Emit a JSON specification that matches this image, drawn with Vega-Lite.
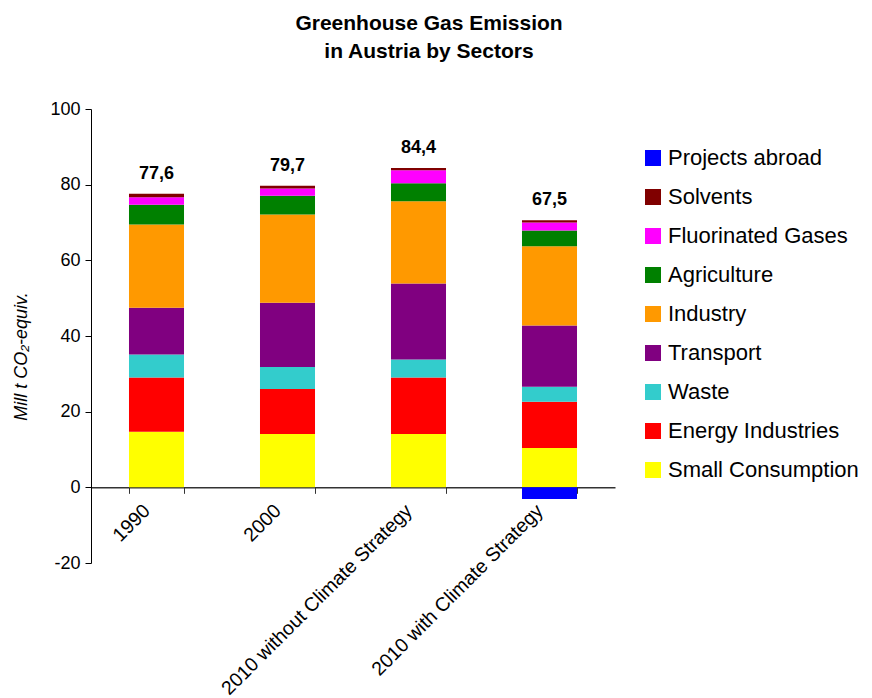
{
  "$schema": "https://vega.github.io/schema/vega-lite/v6.json",
  "autosize": {"type": "none"},
  "width": 524,
  "height": 454,
  "padding": {"left": 91, "top": 109, "right": 257, "bottom": 135},
  "background": "white",
  "title": {
    "text": ["Greenhouse Gas Emission", "in Austria by Sectors"],
    "font": "Liberation Sans",
    "fontSize": 21,
    "fontWeight": "bold",
    "color": "black",
    "anchor": "middle",
    "dx": 76,
    "lineHeight": 28,
    "offset": 38
  },
  "data": {
    "values": [
      {"category": "1990", "sector": "Small Consumption", "value": 14.7},
      {"category": "1990", "sector": "Energy Industries", "value": 14.3},
      {"category": "1990", "sector": "Waste", "value": 6.1},
      {"category": "1990", "sector": "Transport", "value": 12.4},
      {"category": "1990", "sector": "Industry", "value": 22.0},
      {"category": "1990", "sector": "Agriculture", "value": 5.2},
      {"category": "1990", "sector": "Fluorinated Gases", "value": 2.0},
      {"category": "1990", "sector": "Solvents", "value": 0.9},
      {"category": "2000", "sector": "Small Consumption", "value": 14.1},
      {"category": "2000", "sector": "Energy Industries", "value": 11.9},
      {"category": "2000", "sector": "Waste", "value": 5.8},
      {"category": "2000", "sector": "Transport", "value": 17.0},
      {"category": "2000", "sector": "Industry", "value": 23.3},
      {"category": "2000", "sector": "Agriculture", "value": 5.0},
      {"category": "2000", "sector": "Fluorinated Gases", "value": 1.9},
      {"category": "2000", "sector": "Solvents", "value": 0.7},
      {"category": "2010 without Climate Strategy", "sector": "Small Consumption", "value": 14.1},
      {"category": "2010 without Climate Strategy", "sector": "Energy Industries", "value": 14.9},
      {"category": "2010 without Climate Strategy", "sector": "Waste", "value": 4.8},
      {"category": "2010 without Climate Strategy", "sector": "Transport", "value": 20.1},
      {"category": "2010 without Climate Strategy", "sector": "Industry", "value": 21.7},
      {"category": "2010 without Climate Strategy", "sector": "Agriculture", "value": 4.8},
      {"category": "2010 without Climate Strategy", "sector": "Fluorinated Gases", "value": 3.4},
      {"category": "2010 without Climate Strategy", "sector": "Solvents", "value": 0.6},
      {"category": "2010 with Climate Strategy", "sector": "Small Consumption", "value": 10.4},
      {"category": "2010 with Climate Strategy", "sector": "Energy Industries", "value": 12.2},
      {"category": "2010 with Climate Strategy", "sector": "Waste", "value": 4.0},
      {"category": "2010 with Climate Strategy", "sector": "Transport", "value": 16.2},
      {"category": "2010 with Climate Strategy", "sector": "Industry", "value": 20.9},
      {"category": "2010 with Climate Strategy", "sector": "Agriculture", "value": 4.2},
      {"category": "2010 with Climate Strategy", "sector": "Fluorinated Gases", "value": 2.1},
      {"category": "2010 with Climate Strategy", "sector": "Solvents", "value": 0.6},
      {"category": "2010 with Climate Strategy", "sector": "Projects abroad", "value": -3.1}
    ]
  },
  "encoding": {
    "x": {
      "field": "category",
      "type": "nominal",
      "sort": ["1990", "2000", "2010 without Climate Strategy", "2010 with Climate Strategy"],
      "scale": {"paddingInner": 0.58, "paddingOuter": 0.29},
      "axis": {
        "title": null,
        "orient": "bottom",
        "offset": -75.67,
        "labelAngle": -45,
        "labelAlign": "right",
        "labelBaseline": "middle",
        "labelFont": "Liberation Sans",
        "labelFontSize": 19.5,
        "labelColor": "black",
        "labelPadding": 14,
        "labelOffset": -10,
        "labelLimit": 0,
        "labelOverlap": false,
        "tickBand": "extent",
        "tickSize": 6,
        "tickColor": "#333333",
        "domainColor": "#333333",
        "domainWidth": 1.5
      }
    }
  },
  "layer": [
    {
      "transform": [
        {"calculate": "indexof(['Small Consumption', 'Energy Industries', 'Waste', 'Transport', 'Industry', 'Agriculture', 'Fluorinated Gases', 'Solvents', 'Projects abroad'], datum.sector)", "as": "stack_order"}
      ],
      "mark": {"type": "bar"},
      "encoding": {
        "y": {
          "field": "value",
          "type": "quantitative",
          "stack": "zero",
          "scale": {"domain": [-20, 100], "nice": false, "zero": false},
          "axis": {
            "title": "Mill t CO₂-equiv.",
            "titleFont": "Liberation Sans",
            "titleFontSize": 18,
            "titleFontStyle": "italic",
            "titleFontWeight": "normal",
            "titleColor": "black",
            "titlePadding": 19,
            "titleY": 247,
            "values": [-20, 0, 20, 40, 60, 80, 100],
            "labelExpr": "toString(datum.value)",
            "labelFont": "Liberation Sans",
            "labelFontSize": 18,
            "labelColor": "black",
            "labelPadding": 5,
            "tickSize": 6,
            "tickColor": "black",
            "domainColor": "black",
            "grid": false
          }
        },
        "order": {"field": "stack_order", "type": "quantitative", "sort": "ascending"},
        "color": {
          "field": "sector",
          "type": "nominal",
          "scale": {
            "domain": ["Small Consumption", "Energy Industries", "Waste", "Transport", "Industry", "Agriculture", "Fluorinated Gases", "Solvents", "Projects abroad"],
            "range": ["#FFFF00", "#FF0000", "#33CCCC", "#800080", "#FF9900", "#008000", "#FF00FF", "#800000", "#0000FF"]
          },
          "legend": {
            "title": null,
            "orient": "none",
            "legendX": 551,
            "legendY": 38,
            "values": ["Projects abroad", "Solvents", "Fluorinated Gases", "Agriculture", "Industry", "Transport", "Waste", "Energy Industries", "Small Consumption"],
            "symbolType": "square",
            "symbolSize": 256,
            "symbolStrokeWidth": 0,
            "symbolOpacity": 1,
            "labelFont": "Liberation Sans",
            "labelFontSize": 22,
            "labelColor": "black",
            "labelOffset": 4,
            "labelLimit": 300,
            "rowPadding": 17
          }
        }
      }
    },
    {
      "transform": [
        {"joinaggregate": [{"op": "sum", "field": "value", "as": "total"}], "groupby": ["category"]},
        {"filter": "datum.value > 0"},
        {"aggregate": [{"op": "sum", "field": "value", "as": "top"}, {"op": "max", "field": "total", "as": "total"}], "groupby": ["category"]},
        {"calculate": "replace(format(datum.total, '.1f'), '.', ',')", "as": "label"}
      ],
      "mark": {"type": "text", "font": "Liberation Sans", "fontSize": 18, "fontWeight": "bold", "color": "black", "baseline": "alphabetic", "dy": -15},
      "encoding": {
        "y": {"field": "top", "type": "quantitative"},
        "text": {"field": "label", "type": "nominal"}
      }
    }
  ],
  "config": {
    "view": {"stroke": null},
    "font": "Liberation Sans"
  }
}
